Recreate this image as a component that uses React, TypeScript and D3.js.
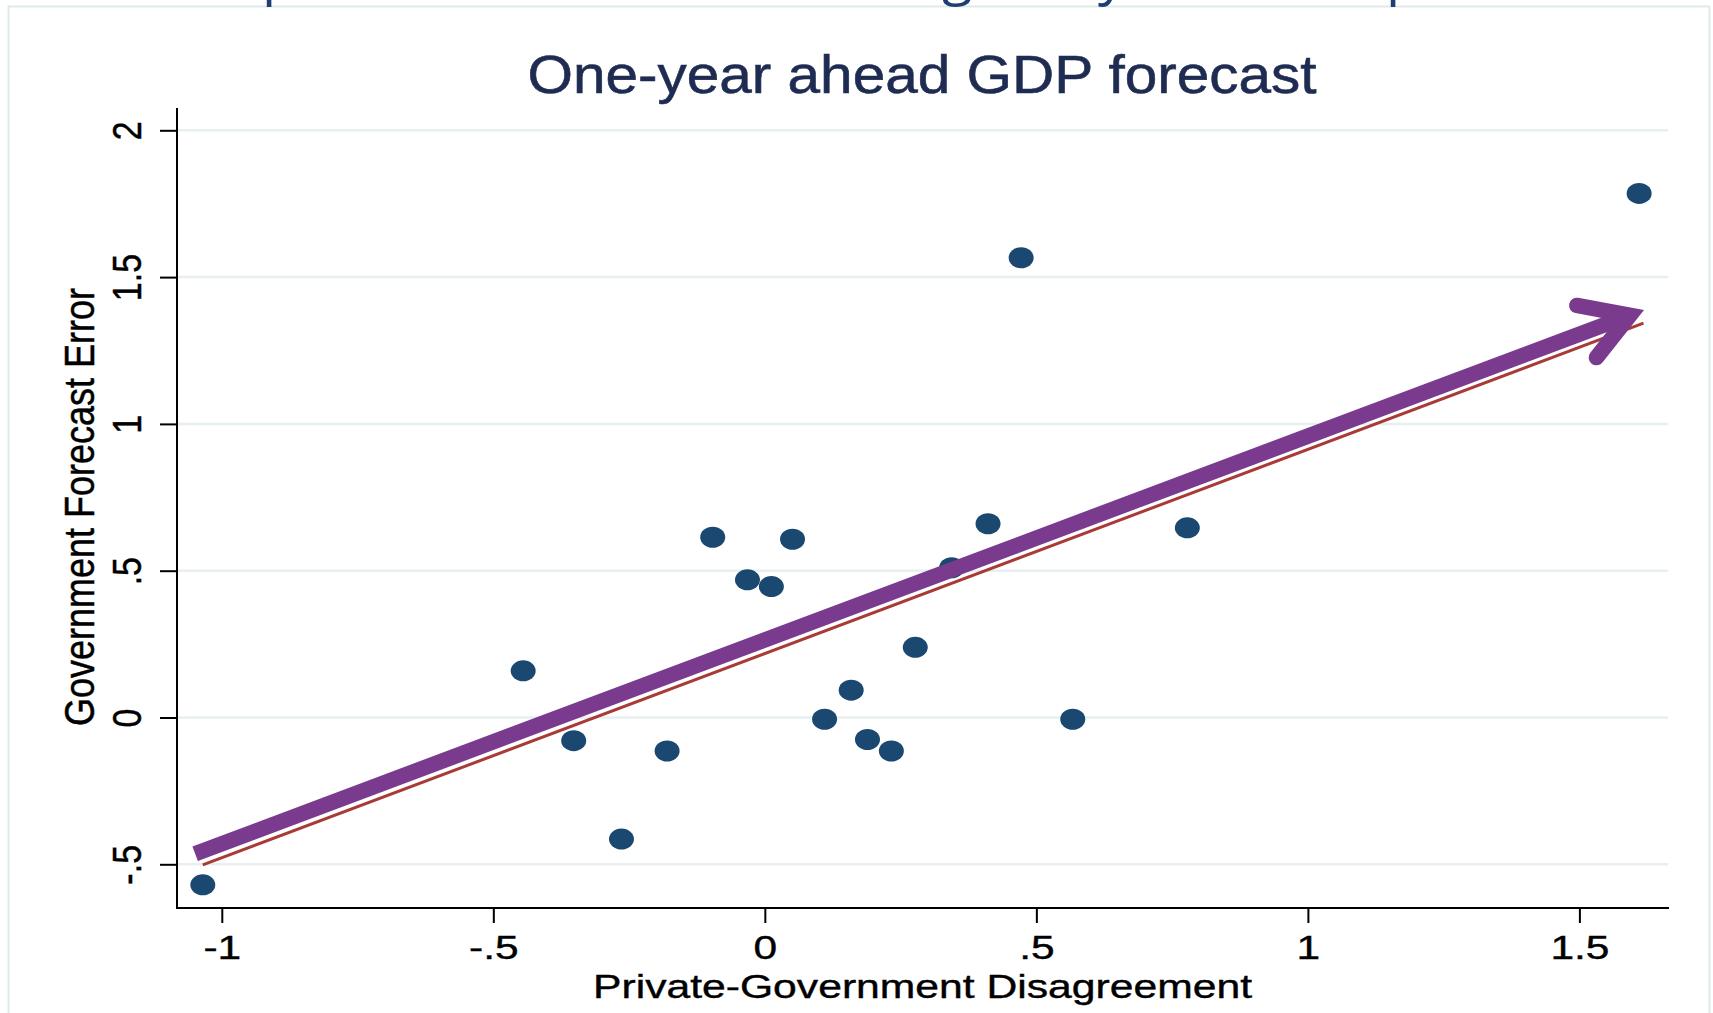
import React, { useEffect, useRef } from "react";
import * as d3 from "d3";

// scatter: private-government disagreement vs government forecast error
const disagreement = [
  -1.035, -0.445, -0.352, -0.264, -0.18, -0.096, -0.032, 0.012, 0.051, 0.11,
  0.159, 0.189, 0.233, 0.277, 0.344, 0.411, 0.472, 0.567, 0.778, 1.61,
];
const forecastError = [
  -0.57, 0.159, -0.079, -0.414, -0.114, 0.614, 0.469, 0.446, 0.607, -0.006,
  0.093, -0.075, -0.114, 0.239, 0.51, 0.66, 1.566, -0.006, 0.646, 1.785,
];

// fitted line and the highlight arrow (data units)
const fitX = [-1.035, 1.618];
const fitY = [-0.502, 1.343];
const arrowX = [-1.049, 1.619];
const arrowY = [-0.464, 1.388];

const xTicks = [-1, -0.5, 0, 0.5, 1, 1.5];
const yTicks = [-0.5, 0, 0.5, 1, 1.5, 2];

const title = "One-year ahead GDP forecast";
const xTitle = "Private-Government Disagreement";
const yTitle = "Government Forecast Error";

// cut-off slide heading above the picture, only descenders show
const slideGlyphs = ["p", ",", "g", "y", "p"];

const width = 1713,
  height = 1013;
const plot = { left: 177, right: 1668, top: 109, bottom: 908 };
const font = "'Liberation Sans', Arial, Helvetica, sans-serif";

// stata style tick labels: -.5, .5
const fmt = (d: number) => String(d).replace(/^(-?)0\./, "$1.");

export default function App(): JSX.Element {
  const ref = useRef<SVGSVGElement>(null);

  useEffect(() => {
    if (!ref.current) return;
    const svg = d3.select(ref.current);
    svg.selectAll("*").remove();

    const x = d3.scaleLinear().domain([-1, 1.5]).range([221.8, 1579.4]);
    const y = d3.scaleLinear().domain([-0.5, 2]).range([864.3, 130.3]);

    svg
      .append("rect")
      .attr("width", width)
      .attr("height", height)
      .attr("fill", "#fff");

    // slide frame
    svg
      .append("rect")
      .attr("x", 8.5)
      .attr("y", 6.5)
      .attr("width", 1701)
      .attr("height", 1030)
      .attr("fill", "none")
      .attr("stroke", "#e0e9ea")
      .attr("stroke-width", 2);

    const glyphX = [262, 690, 942, 1098, 1386];
    svg
      .append("g")
      .attr("font-family", "'Open Sans', sans-serif")
      .attr("font-size", 56)
      .attr("fill", "#1f3f73")
      .selectAll("text")
      .data(slideGlyphs)
      .join("text")
      .attr("x", (d, i) => glyphX[i])
      .attr("y", -7)
      .text((d) => d);

    // gridlines
    svg
      .append("g")
      .selectAll("line")
      .data(yTicks)
      .join("line")
      .attr("x1", plot.left)
      .attr("x2", plot.right)
      .attr("y1", (d) => y(d))
      .attr("y2", (d) => y(d))
      .attr("stroke", "#e8eff0")
      .attr("stroke-width", 2.5);

    // points
    svg
      .append("g")
      .selectAll("ellipse")
      .data(disagreement)
      .join("ellipse")
      .attr("cx", (d) => x(d))
      .attr("cy", (d, i) => y(forecastError[i]))
      .attr("rx", 12.5)
      .attr("ry", 10.5)
      .attr("fill", "#1b4870");

    // fitted line
    const line = d3
      .line<number>()
      .x((d) => x(d))
      .y((d, i) => y(fitY[i]));
    svg
      .append("path")
      .attr("d", line(fitX))
      .attr("fill", "none")
      .attr("stroke", "#a83b36")
      .attr("stroke-width", 3);

    // arrow
    const sx = x(arrowX[0]),
      sy = y(arrowY[0]),
      tx = x(arrowX[1]),
      ty = y(arrowY[1]);
    const len = Math.hypot(tx - sx, ty - sy);
    const ux = (tx - sx) / len,
      uy = (ty - sy) / len;
    const w = 15.5,
      half = (31 * Math.PI) / 180,
      wing = 54;
    const back = w / 2 / Math.sin(half);
    const vx = tx - back * ux,
      vy = ty - back * uy;
    const rot = (a: number): [number, number] => {
      const bx = -ux,
        by = -uy;
      return [
        vx + wing * (bx * Math.cos(a) - by * Math.sin(a)),
        vy + wing * (bx * Math.sin(a) + by * Math.cos(a)),
      ];
    };
    const purple = "#7a3b8f";
    svg
      .append("line")
      .attr("x1", sx)
      .attr("y1", sy)
      .attr("x2", vx)
      .attr("y2", vy)
      .attr("stroke", purple)
      .attr("stroke-width", w);
    const w1 = rot(half),
      w2 = rot(-half);
    svg
      .append("path")
      .attr("d", `M${w1[0]},${w1[1]}L${vx},${vy}L${w2[0]},${w2[1]}`)
      .attr("fill", "none")
      .attr("stroke", purple)
      .attr("stroke-width", w)
      .attr("stroke-linejoin", "miter")
      .attr("stroke-linecap", "round");

    // axes
    const xAxis = (g: any) =>
      g
        .attr("transform", `translate(0,${plot.bottom})`)
        .call(d3.axisBottom(x).tickValues(xTicks).tickSize(15).tickFormat(fmt as any))
        .call((g: any) => g.select(".domain").remove())
        .call((g: any) => g.selectAll("line").attr("stroke", "#000").attr("stroke-width", 2))
        .call((g: any) =>
          g
            .selectAll("text")
            .attr("y", null)
            .attr("dy", null)
            .attr("fill", "#000")
            .attr("stroke", "#000")
            .attr("stroke-width", 0.4)
            .attr("transform", "translate(0,51) scale(1.25,1)")
        )
        .attr("font-family", font)
        .attr("font-size", 34);

    const yAxis = (g: any) =>
      g
        .attr("transform", `translate(${plot.left},0)`)
        .call(d3.axisLeft(y).tickValues(yTicks).tickSize(17).tickFormat(fmt as any))
        .call((g: any) => g.select(".domain").remove())
        .call((g: any) => g.selectAll("line").attr("stroke", "#000").attr("stroke-width", 2))
        .call((g: any) =>
          g
            .selectAll("text")
            .attr("x", null)
            .attr("dy", null)
            .attr("fill", "#000")
            .attr("stroke", "#000")
            .attr("stroke-width", 0.4)
            .attr("text-anchor", "middle")
            .attr("transform", "translate(-36,0) scale(1.2,1) rotate(-90)")
        )
        .attr("font-family", font)
        .attr("font-size", 34);

    svg.append("g").call(xAxis);
    svg.append("g").call(yAxis);

    svg
      .append("path")
      .attr("d", `M${plot.left},${plot.top}V${plot.bottom}H${plot.right}`)
      .attr("fill", "none")
      .attr("stroke", "#000")
      .attr("stroke-width", 2)
      .attr("stroke-linecap", "square");

    // titles
    svg
      .append("text")
      .attr("x", 922)
      .attr("y", 93)
      .attr("text-anchor", "middle")
      .attr("font-family", font)
      .attr("font-size", 53)
      .attr("fill", "#1f2c52")
      .attr("stroke", "#1f2c52")
      .attr("stroke-width", 0.6)
      .attr("textLength", 789)
      .attr("lengthAdjust", "spacingAndGlyphs")
      .text(title);

    svg
      .append("text")
      .attr("x", 922.5)
      .attr("y", 998)
      .attr("text-anchor", "middle")
      .attr("font-family", font)
      .attr("font-size", 34)
      .attr("fill", "#000")
      .attr("stroke", "#000")
      .attr("stroke-width", 0.4)
      .attr("textLength", 659)
      .attr("lengthAdjust", "spacingAndGlyphs")
      .text(xTitle);

    svg
      .append("text")
      .attr("transform", "translate(94,507) scale(1.2,1) rotate(-90)")
      .attr("text-anchor", "middle")
      .attr("font-family", font)
      .attr("font-size", 36)
      .attr("fill", "#000")
      .attr("stroke", "#000")
      .attr("stroke-width", 0.4)
      .text(yTitle);
  }, []);

  return (
    <div style={{ position: "absolute", left: 0, top: 0 }}>
      <svg ref={ref} width={width} height={height} style={{ display: "block" }} />
    </div>
  );
}
